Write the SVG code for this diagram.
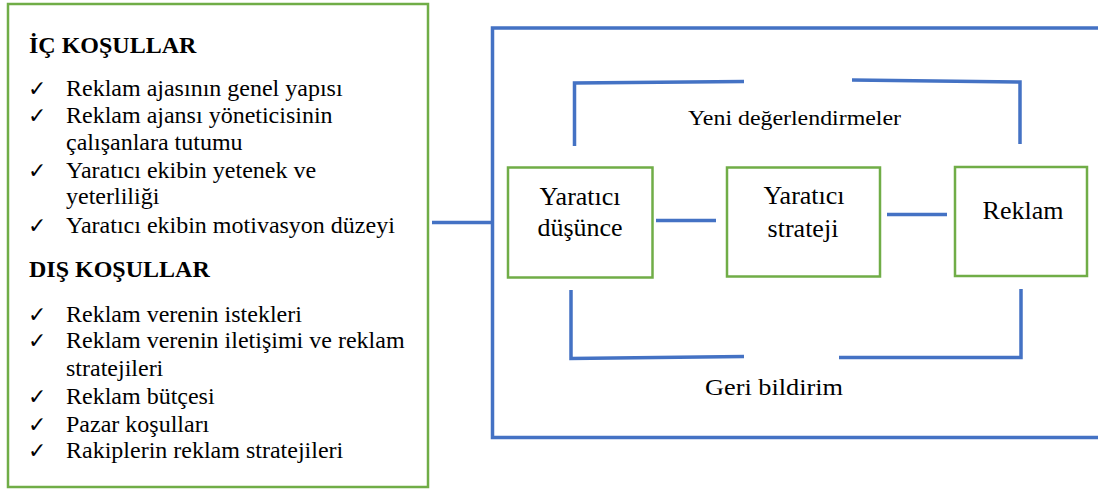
<svg xmlns="http://www.w3.org/2000/svg" width="1098" height="492" viewBox="0 0 1098 492">
<style>
.box{fill:#fff;stroke:#70ad47;stroke-width:2.5}
.ln{fill:none;stroke:#4472c4;stroke-width:3.5}
.t{font-size:24px;fill:#000}
.h{font-size:24px;font-weight:bold;fill:#000}
.ck{font-family:"DejaVu Sans",sans-serif;font-size:22px;fill:#000}
.n{font-size:26px;fill:#000;text-anchor:middle}
.lab{fill:#000}
</style>
<rect width="1098" height="492" fill="#fff"/>
<g font-family="Liberation Serif, Tinos, Times New Roman, serif">
<g id="conditions">
<rect class="box" x="8" y="4" width="420" height="483"/>
<text class="h" x="29" y="53">İÇ KOŞULLAR</text>
<g class="ck">
<text x="28" y="96">✓</text><text x="28" y="123">✓</text><text x="28" y="178">✓</text><text x="28" y="233">✓</text>
<text x="28" y="322">✓</text><text x="28" y="348">✓</text><text x="28" y="404">✓</text><text x="28" y="432">✓</text><text x="28" y="458">✓</text>
</g>
<text class="t" x="66" y="96">Reklam ajasının genel yapısı</text>
<text class="t" x="66" y="123">Reklam ajansı yöneticisinin</text>
<text class="t" x="66" y="150">çalışanlara tutumu</text>
<text class="t" x="66" y="178">Yaratıcı ekibin yetenek ve</text>
<text class="t" x="66" y="204">yeterliliği</text>
<text class="t" x="66" y="233">Yaratıcı ekibin motivasyon düzeyi</text>
<text class="h" x="29" y="277">DIŞ KOŞULLAR</text>
<text class="t" x="66" y="322">Reklam verenin istekleri</text>
<text class="t" x="66" y="348">Reklam verenin iletişimi ve reklam</text>
<text class="t" x="66" y="376">stratejileri</text>
<text class="t" x="66" y="404">Reklam bütçesi</text>
<text class="t" x="66" y="432">Pazar koşulları</text>
<text class="t" x="66" y="458">Rakiplerin reklam stratejileri</text>
</g>
<g id="connectors">
<line class="ln" x1="432" y1="222.5" x2="492" y2="222.5"/>
<polyline class="ln" points="1098,28 492.5,28 492.5,437.5 1098,437.5"/>
<polyline class="ln" points="574.5,146 574.5,83 744,81.5"/>
<polyline class="ln" points="852,80 1020,82 1020,144"/>
<polyline class="ln" points="571,290 571,358.5 744,356.5"/>
<polyline class="ln" points="839,357.5 1021,357.5 1021,289"/>
<line class="ln" x1="656" y1="220.5" x2="716" y2="220.5"/>
<line class="ln" x1="887" y1="214.5" x2="947" y2="214.5"/>
<text class="lab" x="688" y="124.5" font-size="22" textLength="213" lengthAdjust="spacingAndGlyphs">Yeni değerlendirmeler</text>
<text class="lab" x="705" y="394.5" font-size="24" textLength="138" lengthAdjust="spacingAndGlyphs">Geri bildirim</text>
</g>
<g id="node-dusunce">
<rect class="box" x="508" y="167.5" width="144.5" height="110"/>
<text class="n" x="580" y="205">Yaratıcı</text>
<text class="n" x="580" y="236">düşünce</text>
</g>
<g id="node-strateji">
<rect class="box" x="727" y="167.5" width="153" height="109"/>
<text class="n" x="804" y="203.5">Yaratıcı</text>
<text class="n" x="803" y="236.5">strateji</text>
</g>
<g id="node-reklam">
<rect class="box" x="955" y="167" width="132" height="109"/>
<text class="n" x="1023" y="218.5">Reklam</text>
</g>
</g>
</svg>
